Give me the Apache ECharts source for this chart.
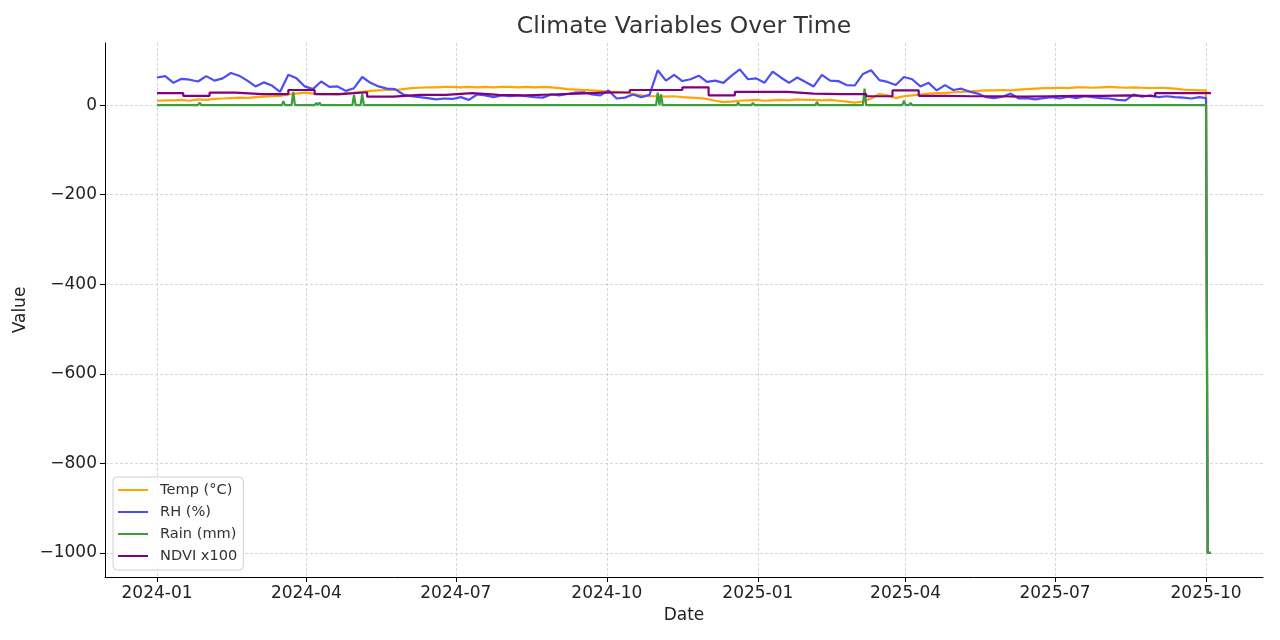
<!DOCTYPE html>
<html>
<head>
<meta charset="utf-8">
<title>Climate Variables Over Time</title>
<script src="https://cdn.jsdelivr.net/npm/echarts@6.0.0/dist/echarts.min.js"></script>
<style>
  html, body { margin: 0; padding: 0; background: #fff; }
  #chart { width: 1280px; height: 640px; }
</style>
</head>
<body>
<div id="chart"></div>
<script>
// x is measured in days from 2024-01-01
const START = Date.UTC(2024, 0, 1);
const DAY = 86400000;

// sampled every 5 days, then the last good day and the -1000 sentinel days
const sampleDays = [...Array(128).keys()].map(i => i * 5).concat([639, 640, 642]);

const temp = [
  10, 11, 11, 12, 10, 13, 12, 14, 15, 16,
  17, 16, 18, 19, 20, 21, 24, 26, 28, 26,
  25, 25, 24, 27, 28, 30, 32, 33, 34, 34,
  36, 38, 39, 40, 40, 41, 41, 40, 41, 40,
  41, 40, 41, 41, 40, 41, 40, 41, 40, 38,
  36, 35, 34, 33, 32, 30, 30, 28, 25, 22,
  20, 20, 19, 20, 18, 17, 16, 14, 10, 7,
  8, 10, 11, 12, 10, 11, 12, 11, 13, 12,
  12, 11, 12, 10, 8, 6, 8, 15, 25, 22,
  16, 20, 22, 24, 26, 27, 27, 29, 30, 31,
  32, 33, 33, 34, 33, 35, 36, 37, 38, 38,
  39, 38, 40, 40, 39, 40, 41, 40, 39, 40,
  39, 38, 39, 38, 37, 35, 34, 33,
  33, -1000, -1000
];

const rh = [
  62, 65, 50, 59, 57, 53, 65, 55, 60, 72,
  66, 55, 42, 51, 44, 30, 68, 60, 42, 36,
  53, 41, 42, 32, 38, 63, 50, 42, 37, 36,
  24, 20, 18, 16, 13, 15, 14, 18, 12, 24,
  22, 18, 22, 20, 22, 20, 18, 17, 24, 22,
  25, 28, 29, 24, 22, 33, 15, 17, 24, 18,
  23, 78, 55, 68, 54, 58, 66, 52, 55, 50,
  66, 80, 58, 60, 50, 75, 62, 50, 62, 52,
  42, 68, 55, 54, 45, 44, 70, 78, 56, 52,
  45, 63, 58, 42, 50, 33, 45, 34, 37, 30,
  26, 18, 16, 19, 26, 15, 16, 13, 16, 18,
  15, 19, 16, 20, 18, 16, 15, 12, 11, 24,
  19, 22, 18, 20, 18, 17, 15, 18,
  16, -1000, -1000
];

// rain is zero except on these days
const rainDays = [26, 31, 45, 57, 77, 83, 97, 99, 120, 125, 305, 307, 327, 354, 363, 402, 431, 455, 459];
const rainMm = [6, 4, 4, 3, 9, 30, 5, 6, 23, 25, 28, 24, 4, 6, 5, 7, 37, 10, 5];
const rainTailDays = [639, 640, 642];
const rainTail = [0, -1000, -1000];

// NDVI x100, one value per 16-day composite
const ndviPeriod = 16;
const ndvi = [
  27, 21, 28, 25, 25, 34, 25, 29, 19, 23,
  23, 27, 23, 22, 24, 26, 28, 29, 34, 34,
  40, 22, 30, 30, 26, 25, 25, 20, 33, 21,
  20, 20, 19, 20, 21, 21, 22, 20, 27, 27,
  27
];
const ndviEndDay = 642;

const xTickLabels = ['2024-01', '2024-04', '2024-07', '2024-10', '2025-01', '2025-04', '2025-07', '2025-10'];
const yTicks = [-1000, -800, -600, -400, -200, 0];

const xTicks = xTickLabels.map(s => Math.round((Date.UTC(+s.slice(0, 4), +s.slice(5) - 1, 1) - START) / DAY));

const tempData = sampleDays.map((d, i) => [d, temp[i]]);
const rhData = sampleDays.map((d, i) => [d, rh[i]]);

const rainData = [[0, 0]];
rainDays.forEach((d, i) => {
  rainData.push([d - 1, 0], [d, rainMm[i]], [d + 1, 0]);
});
rainTailDays.forEach((d, i) => rainData.push([d, rainTail[i]]));

const ndviData = ndvi.map((v, k) => [k * ndviPeriod, v]);
ndviData.push([ndviEndDay, ndvi[ndvi.length - 1]]);

const font = 'DejaVu Sans';
const splitLine = { show: true, lineStyle: { color: '#cccccc', width: 0.8, type: [3, 2] } };

const chart = echarts.init(document.getElementById('chart'));

const option = {
  animation: false,
  textStyle: { fontFamily: font },
  title: {
    text: 'Climate Variables Over Time',
    left: 684,
    top: 15,
    padding: 0,
    textAlign: 'center',
    textStyle: { fontFamily: font, fontSize: 23.5, fontWeight: 'normal', color: '#333333' }
  },
  legend: {
    orient: 'vertical',
    left: 113,
    top: 477,
    padding: [5, 6, 6, 5],
    itemGap: 6,
    itemWidth: 30,
    itemHeight: 2,
    icon: 'rect',
    borderColor: '#d0d0d0',
    borderWidth: 1,
    borderRadius: 4,
    backgroundColor: 'rgba(255,255,255,0.85)',
    textStyle: { fontFamily: font, fontSize: 14.6, color: '#333333', lineHeight: 16, padding: [0, 0, 0, 7] },
    data: ['Temp (°C)', 'RH (%)', 'Rain (mm)', 'NDVI x100']
  },
  grid: { left: 105, right: 17, top: 43, bottom: 63 },
  xAxis: {
    type: 'value',
    min: -31.68,
    max: 673.7,
    name: 'Date',
    nameLocation: 'middle',
    nameGap: 29,
    nameTextStyle: { fontFamily: font, fontSize: 17, color: '#222222' },
    axisLine: { onZero: false, lineStyle: { color: '#000000', width: 1 } },
    axisTick: { show: true, length: 5, lineStyle: { color: '#000000' }, customValues: xTicks },
    axisLabel: {
      customValues: xTicks,
      margin: 8,
      fontFamily: font,
      fontSize: 17,
      color: '#222222',
      formatter: v => xTickLabels[xTicks.indexOf(v)] || ''
    },
    splitLine: splitLine
  },
  yAxis: {
    type: 'value',
    min: -1054,
    max: 139,
    name: 'Value',
    nameLocation: 'middle',
    nameGap: 68,
    nameRotate: 90,
    nameTextStyle: { fontFamily: font, fontSize: 17, color: '#222222' },
    axisLine: { show: true, onZero: false, lineStyle: { color: '#000000', width: 1 } },
    axisTick: { show: true, length: 5, lineStyle: { color: '#000000' }, customValues: yTicks },
    axisLabel: {
      customValues: yTicks,
      margin: 8,
      fontFamily: font,
      fontSize: 17,
      color: '#222222',
      formatter: v => (v < 0 ? '\u2212' + Math.abs(v) : String(v))
    },
    splitLine: splitLine
  },
  series: [
    { name: 'Temp (°C)', type: 'line', data: tempData, showSymbol: false, symbol: 'none',
      color: '#ffa500', lineStyle: { width: 2.2, color: '#ffa500' }, z: 2 },
    { name: 'RH (%)', type: 'line', data: rhData, showSymbol: false, symbol: 'none',
      color: '#4d4df7', lineStyle: { width: 2.2, color: '#4d4df7' }, z: 3 },
    { name: 'Rain (mm)', type: 'line', data: rainData, showSymbol: false, symbol: 'none',
      color: '#3c9e3c', lineStyle: { width: 2.2, color: '#3c9e3c' }, z: 4 },
    { name: 'NDVI x100', type: 'line', data: ndviData, step: 'end', showSymbol: false, symbol: 'none',
      color: '#800080', lineStyle: { width: 2.2, color: '#800080' }, z: 5 }
  ]
};

chart.setOption(option);
</script>
</body>
</html>
